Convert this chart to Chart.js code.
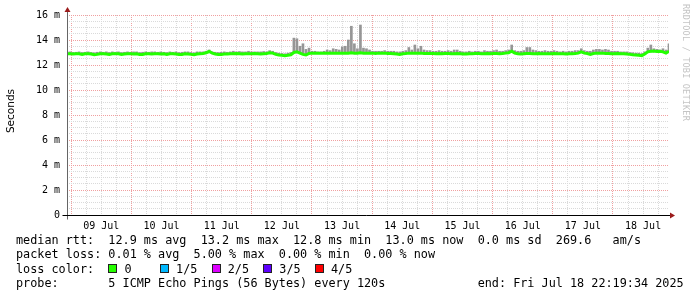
<!DOCTYPE html>
<html>
<head>
<meta charset="utf-8">
<script src="https://cdn.jsdelivr.net/npm/chart.js@4.4.1/dist/chart.umd.min.js"></script>
<style>
  html, body { margin: 0; padding: 0; background: #fff; }
  #wrap { position: relative; width: 697px; height: 297px; overflow: hidden; }
  #chart { position: absolute; left: 0; top: 0; }
  .ylab { position: absolute; left: -20px; top: 105px; width: 60px; text-align: center;
          font: 10.5px "DejaVu Sans", sans-serif; transform: rotate(-90deg); color: #000; }
  .brand { position: absolute; left: 681px; top: 4px; writing-mode: vertical-rl;
           font: 8.5px "DejaVu Sans Mono", monospace; color: #c4c4c4; letter-spacing: 0.2px; }
  .legend { position: absolute; left: 16px; top: 233px; font: 11.8px "DejaVu Sans Mono", monospace;
            line-height: 14.4px; color: #000; white-space: pre; }
  .box { display: inline-block; width: 7px; height: 7px; border: 1px solid #222; }
</style>
</head>
<body>
<div id="wrap">
  <canvas id="chart" width="697" height="297"></canvas>
  <div class="ylab">Seconds</div>
  <div class="brand">RRDTOOL / TOBI OETIKER</div>
  <div class="legend"><div>median rtt:  12.9 ms avg  13.2 ms max  12.8 ms min  13.0 ms now  0.0 ms sd  269.6   am/s</div><div>packet loss: 0.01 % avg  5.00 % max  0.00 % min  0.00 % now</div><div>loss color:  <span class="box" style="background:#26ff00"></span> 0    <span class="box" style="background:#00b8ff"></span> 1/5  <span class="box" style="background:#dd00ff"></span> 2/5  <span class="box" style="background:#5e00ff"></span> 3/5  <span class="box" style="background:#ff0000"></span> 4/5</div><div>probe:       5 ICMP Echo Pings (56 Bytes) every 120s             end: Fri Jul 18 22:19:34 2025</div></div>
</div>
<script>
// Time axis: hours relative to 09 Jul 00:00, 10 days ending Fri Jul 18 22:19:34
const startHour = -1.674;
const spanHours = 240;
const dayLabels = ['09 Jul', '10 Jul', '11 Jul', '12 Jul', '13 Jul', '14 Jul', '15 Jul', '16 Jul', '17 Jul', '18 Jul'];
const yTickLabels = ['0', '2 m', '4 m', '6 m', '8 m', '10 m', '12 m', '14 m', '16 m'];

// median rtt (ms), one value per ~72 minutes
const medianRtt = [
  12.9, 12.9, 12.88, 12.9, 12.9, 12.85, 12.9, 12.9, 12.88, 12.82,
  12.85, 12.9, 12.9, 12.88, 12.85, 12.9, 12.9, 12.9, 12.85, 12.88,
  12.9, 12.9, 12.88, 12.9, 12.85, 12.85, 12.9, 12.9, 12.88, 12.9,
  12.9, 12.88, 12.9, 12.85, 12.9, 12.9, 12.88, 12.85, 12.85, 12.9,
  12.88, 12.85, 12.82, 12.88, 12.9, 12.92, 12.98, 13.08, 12.95, 12.88,
  12.85, 12.85, 12.88, 12.88, 12.9, 12.9, 12.92, 12.9, 12.88, 12.9,
  12.9, 12.9, 12.92, 12.9, 12.88, 12.9, 12.92, 12.98, 12.95, 12.85,
  12.8, 12.78, 12.75, 12.78, 12.82, 13.0, 13.05, 12.95, 12.85, 12.8,
  12.92, 12.95, 12.95, 12.95, 12.95, 12.95, 12.95, 12.95, 12.95, 12.95,
  12.95, 12.95, 12.95, 12.95, 12.98, 12.95, 12.95, 12.98, 12.95, 12.95,
  12.95, 12.95, 12.92, 12.95, 12.95, 12.95, 12.92, 12.92, 12.9, 12.88,
  12.85, 12.9, 12.92, 12.95, 12.95, 12.95, 12.95, 12.95, 12.92, 12.92,
  12.92, 12.92, 12.9, 12.92, 12.9, 12.92, 12.92, 12.9, 12.9, 12.92,
  12.9, 12.88, 12.88, 12.9, 12.9, 12.92, 12.92, 12.9, 12.9, 12.92,
  12.9, 12.92, 12.92, 12.9, 12.92, 12.95, 12.98, 13.1, 12.95, 12.9,
  12.88, 12.9, 12.92, 12.92, 12.9, 12.9, 12.92, 12.9, 12.9, 12.9,
  12.9, 12.92, 12.9, 12.9, 12.9, 12.88, 12.9, 12.9, 12.92, 12.95,
  13.05, 12.95, 12.92, 12.85, 12.92, 12.95, 12.95, 12.95, 12.92, 12.92,
  12.9, 12.9, 12.92, 12.9, 12.9, 12.88, 12.85, 12.82, 12.8, 12.78,
  12.75, 12.88, 13.05, 13.1, 13.12, 13.08, 13.1, 13.05, 12.95, 13.1
];

// highest ping of each interval (top of the smoke), ms
const maxRtt = [
  13.05, 13.05, 13.0, 13.02, 13.05, 13.0, 13.02, 13.05, 13.0, 12.98,
  13.02, 13.05, 13.02, 13.05, 13.0, 13.05, 13.02, 13.05, 13.0, 13.02,
  13.05, 13.02, 13.05, 13.05, 13.0, 13.02, 13.05, 13.02, 13.05, 13.05,
  13.02, 13.05, 13.02, 13.0, 13.05, 13.02, 13.05, 13.0, 13.02, 13.05,
  13.05, 13.0, 12.98, 13.05, 13.05, 13.05, 13.1, 13.2, 13.05, 13.02,
  13.0, 13.02, 13.05, 13.02, 13.05, 13.1, 13.05, 13.08, 13.05, 13.05,
  13.1, 13.05, 13.05, 13.05, 13.05, 13.08, 13.05, 13.15, 13.1, 13.0,
  12.95, 12.92, 12.9, 12.95, 13.0, 14.15, 14.1, 13.5, 13.7, 13.25,
  13.35, 13.1, 13.1, 13.05, 13.05, 13.1, 13.2, 13.15, 13.3, 13.25,
  13.2, 13.45, 13.5, 14.0, 15.1, 13.7, 13.3, 15.2, 13.35, 13.3,
  13.2, 13.1, 13.1, 13.1, 13.1, 13.15, 13.1, 13.1, 13.1, 13.05,
  13.05, 13.1, 13.15, 13.4, 13.2, 13.6, 13.3, 13.5, 13.2, 13.15,
  13.15, 13.1, 13.1, 13.15, 13.1, 13.1, 13.15, 13.1, 13.2, 13.2,
  13.1, 13.05, 13.05, 13.1, 13.05, 13.1, 13.1, 13.05, 13.15, 13.1,
  13.1, 13.15, 13.2, 13.1, 13.1, 13.15, 13.2, 13.6, 13.15, 13.1,
  13.1, 13.15, 13.4, 13.4, 13.2, 13.15, 13.1, 13.1, 13.15, 13.1,
  13.1, 13.15, 13.1, 13.05, 13.1, 13.05, 13.1, 13.1, 13.15, 13.15,
  13.3, 13.15, 13.1, 13.1, 13.2, 13.25, 13.25, 13.2, 13.25, 13.2,
  13.1, 13.1, 13.1, 13.05, 13.05, 13.05, 13.0, 12.98, 12.95, 12.95,
  12.92, 13.05, 13.35, 13.6, 13.3, 13.25, 13.2, 13.3, 13.2, 13.7
];

const stepHours = spanHours / (medianRtt.length - 1);
const hours = medianRtt.map((_, i) => startHour + i * stepHours);

const redGrid = 'rgb(240,160,160)';
const grayGrid = 'rgb(218,218,218)';

// tick value in whole hours, guards against float noise
const hourOf = (v) => Math.round(v);
const isMultiple = (v, step, offset) => ((hourOf(v) % step) + step) % step === offset;

// axis lines with the little rrdtool arrows
const axisPlugin = {
    id: 'axisArrows',
    afterDatasetsDraw(chart) {
        const { ctx, chartArea } = chart;
        const l = Math.round(chartArea.left) + 0.5;
        const b = Math.round(chartArea.bottom) + 0.5;
        ctx.save();
        ctx.lineWidth = 1;
        ctx.strokeStyle = '#666';
        ctx.beginPath();
        ctx.moveTo(l, 10);
        ctx.lineTo(l, b + 4);
        ctx.stroke();
        ctx.strokeStyle = '#000';
        ctx.beginPath();
        ctx.moveTo(l - 5, b);
        ctx.lineTo(chartArea.right + 1, b);
        ctx.stroke();
        ctx.fillStyle = '#9b1b1b';
        ctx.beginPath();
        ctx.moveTo(l - 3, 12);
        ctx.lineTo(l + 3, 12);
        ctx.lineTo(l, 7);
        ctx.closePath();
        ctx.fill();
        ctx.beginPath();
        ctx.moveTo(chartArea.right + 1, b - 3);
        ctx.lineTo(chartArea.right + 1, b + 3);
        ctx.lineTo(chartArea.right + 6, b);
        ctx.closePath();
        ctx.fill();
        ctx.restore();
    }
};

new Chart(document.getElementById('chart').getContext('2d'), {
    data: {
        datasets: [{
            type: 'line',
            label: 'median rtt',
            data: hours.map((h, i) => ({ x: h, y: medianRtt[i] })),
            borderColor: '#22ff00',
            borderWidth: 3,
            pointRadius: 0,
            tension: 0,
            order: 0,
        }, {
            type: 'bar',
            label: 'smoke',
            data: hours.map((h, i) => ({ x: h, y: [medianRtt[i], maxRtt[i]] })),
            backgroundColor: 'rgb(150,150,150)',
            borderWidth: 0,
            barThickness: 2,
            order: 1,
        }],
    },
    options: {
        responsive: false,
        animation: false,
        devicePixelRatio: 1,
        layout: { padding: { top: 15, right: 28, left: 0, bottom: 0 } },
        plugins: { legend: { display: false }, tooltip: { enabled: false } },
        scales: {
            x: {
                type: 'linear',
                offset: false,
                min: startHour,
                max: startHour + spanHours,
                afterFit: (scale) => { scale.height = 82; },
                // one tick every 6 hours on whole clock hours
                afterBuildTicks: (scale) => {
                    const ticks = [];
                    for (let h = Math.ceil(startHour / 6) * 6; h <= startHour + spanHours; h += 6) {
                        ticks.push({ value: h });
                    }
                    scale.ticks = ticks;
                },
                border: { display: false, dash: [1, 1] },
                grid: {
                    offset: false,
                    drawTicks: false,
                    color: (c) => (c.tick && isMultiple(c.tick.value, 24, 0)) ? redGrid : grayGrid,
                },
                ticks: {
                    autoSkip: false,
                    maxRotation: 0,
                    padding: 5,
                    color: '#000',
                    font: { family: 'DejaVu Sans Mono', size: 10 },
                    callback: (v) => isMultiple(v, 24, 12) ? dayLabels[(hourOf(v) - 12) / 24] : '',
                },
            },
            y: {
                min: 0,
                max: 16,
                afterFit: (scale) => { scale.width = 67; },
                border: { display: false, dash: [1, 1] },
                grid: {
                    drawTicks: false,
                    color: (c) => (c.tick && Math.abs(c.tick.value % 2) < 1e-6) ? redGrid : grayGrid,
                },
                ticks: {
                    stepSize: 0.5,
                    autoSkip: false,
                    padding: 7,
                    color: '#000',
                    font: { family: 'DejaVu Sans Mono', size: 10 },
                    callback: (v) => Math.abs(v % 2) < 1e-6 ? yTickLabels[Math.round(v / 2)] : '',
                },
            },
        },
    },
    plugins: [axisPlugin],
});
</script>
</body>
</html>
